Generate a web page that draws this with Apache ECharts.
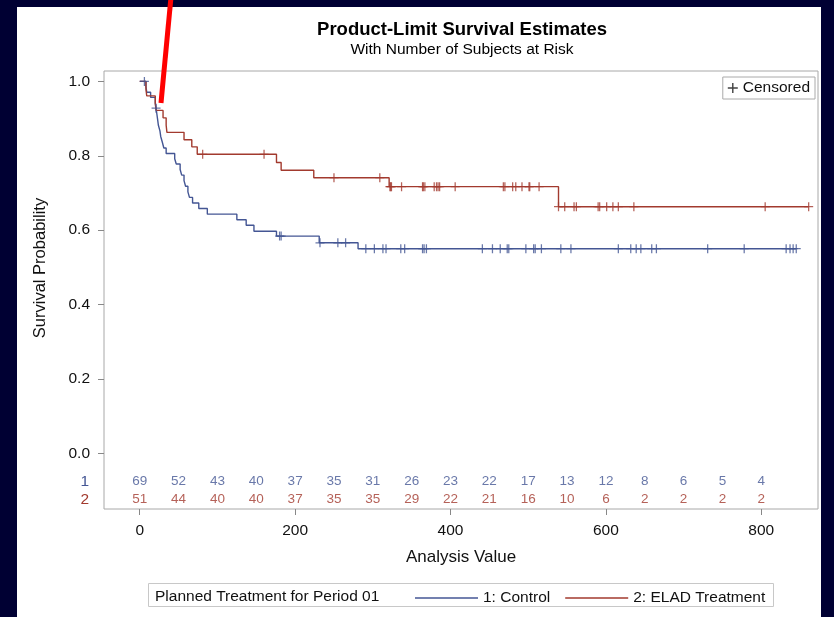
<!DOCTYPE html>
<html><head><meta charset="utf-8">
<script src="https://cdn.jsdelivr.net/npm/echarts@6/dist/echarts.min.js"></script>
<style>
html,body{margin:0;padding:0;background:#000033;width:834px;height:617px;overflow:hidden}
#panel{position:absolute;left:17px;top:7px;width:804px;height:610px;background:#fff}
#chart{position:absolute;left:0;top:0;width:834px;height:617px}
</style></head><body>
<div id="panel"></div><div id="chart"></div>
<script>
// ---- data ----
const ctrlStepTimes = [0,8,9,14,20,21,22,23,24,26,27,29,31,34,45,47,52,54,57,59,62,64,68,76,87,125,137,147,176,231,281,845];
const ctrlStepSurv  = [1.000,0.986,0.971,0.957,0.942,0.928,0.913,0.898,0.882,0.867,0.852,0.837,0.821,0.806,0.792,0.778,0.763,0.748,0.733,0.718,0.703,0.688,0.673,0.658,0.643,0.628,0.613,0.597,0.584,0.566,0.550,0.550];
const ctrlCensorTimes = [6,21,180,182,232,255,265,291,302,313,317,336,341,364,366,369,441,454,464,473,475,497,507,509,517,542,555,616,632,639,645,659,665,731,778,832,837,841,845];

const eladStepTimes = [0,8,9,20,21,30,34,35,57,67,74,176,182,224,321,539,861];
const eladStepSurv  = [1.000,0.980,0.961,0.941,0.922,0.902,0.882,0.863,0.843,0.824,0.804,0.782,0.761,0.741,0.717,0.663,0.663];
const eladCensorTimes = [81,160,250,309,322,323,324,337,364,365,367,379,382,384,386,406,468,470,480,484,492,501,502,514,539,547,559,562,590,592,601,609,616,636,805,861];

const riskTimes  = [0,50,100,150,200,250,300,350,400,450,500,550,600,650,700,750,800];
const ctrlAtRisk = [69,52,43,40,37,35,31,26,23,22,17,13,12,8,6,5,4];
const eladAtRisk = [51,44,40,40,37,35,35,29,22,21,16,10,6,2,2,2,2];
const riskRows   = ['1','2'];

const yTicks = [0,0.2,0.4,0.6,0.8,1.0];
const xTicks = [0,200,400,600,800];

const seriesNames = ['1: Control','2: ELAD Treatment'];
// ------------------------------------

const FONT = '"Liberation Sans", Arial, Helvetica, sans-serif';
const BLUE = '#445694', RED = '#A23A2E';
const PLUS = 'path://M4.3,0h1.4v4.3h4.3v1.4h-4.3v4.3h-1.4v-4.3h-4.3v-1.4h4.3z';

function levelAt(times, surv, t) {
  let s = surv[0];
  for (let i = 0; i < times.length; i++) if (times[i] <= t) s = surv[i];
  return s;
}
const zip = (a, b) => a.map((v, i) => [v, b[i]]);

const chart = echarts.init(document.getElementById('chart'), null, {renderer: 'canvas'});
const option = {
  animation: false,
  textStyle: {fontFamily: FONT},
  title: {
    text: 'Product-Limit Survival Estimates',
    subtext: 'With Number of Subjects at Risk',
    left: 462, textAlign: 'center', top: 20, itemGap: 3, padding: 0,
    textStyle: {fontSize: 18.5, fontWeight: 'bold', color: '#000', fontFamily: FONT},
    subtextStyle: {fontSize: 15.5, color: '#000', fontFamily: FONT}
  },
  grid: [
    {left: 104, top: 71, right: 16, bottom: 108, show: true, borderColor: '#a8a8a8', borderWidth: 1, backgroundColor: 'transparent'},
    {left: 104, top: 472, right: 16, height: 37}
  ],
  xAxis: [
    {type: 'value', gridIndex: 0, min: -46, max: 873,
     axisLine: {show: false, onZero: false}, splitLine: {show: false},
     axisTick: {show: true, length: 6, customValues: xTicks, lineStyle: {color: '#888'}},
     axisLabel: {customValues: xTicks, fontSize: 15.5, color: '#111', margin: 14},
     name: 'Analysis Value', nameLocation: 'middle', nameGap: 40,
     nameTextStyle: {fontSize: 17, color: '#111'}},
    {type: 'value', gridIndex: 1, min: -46, max: 873, show: false}
  ],
  yAxis: [
    {type: 'value', gridIndex: 0, min: -0.15, max: 1.028,
     axisLine: {show: false, onZero: false}, splitLine: {show: false},
     axisTick: {show: true, length: 6, customValues: yTicks, lineStyle: {color: '#888'}},
     axisLabel: {customValues: yTicks, formatter: v => v.toFixed(1), fontSize: 15.5, color: '#111', margin: 14}},
    {type: 'category', gridIndex: 1, data: riskRows, inverse: true,
     axisLine: {show: false}, axisTick: {show: false}, splitLine: {show: false},
     axisLabel: {interval: 0, fontSize: 15.5, margin: 15, color: v => (v === '1' ? BLUE : RED)}}
  ],
  legend: [
    {data: seriesNames.map(n => ({name: n, icon: 'rect'})), left: 415, top: 590, itemWidth: 63, itemHeight: 1.5, itemGap: 15, padding: 0,
     textStyle: {fontSize: 15.5, color: '#111'}},
    {data: [{name: 'Censored', icon: PLUS, itemStyle: {color: '#111'}}], right: 19, top: 77,
     itemWidth: 10, itemHeight: 10, borderColor: '#aaa', borderWidth: 1, padding: [3, 5, 3, 5],
     textStyle: {fontSize: 15.5, color: '#111'}}
  ],
  series: [
    {name: seriesNames[0], type: 'line', step: 'end', symbol: 'none', z: 3,
     data: zip(ctrlStepTimes, ctrlStepSurv), lineStyle: {color: BLUE, width: 1.4}, itemStyle: {color: BLUE}},
    {name: seriesNames[1], type: 'line', step: 'end', symbol: 'none', z: 3,
     data: zip(eladStepTimes, eladStepSurv), lineStyle: {color: RED, width: 1.4}, itemStyle: {color: RED}},
    {name: 'Censored', type: 'scatter', symbol: PLUS, symbolSize: 9, z: 4,
     data: ctrlCensorTimes.map(t => [t, levelAt(ctrlStepTimes, ctrlStepSurv, t)]), itemStyle: {color: BLUE}},
    {name: 'Censored', type: 'scatter', symbol: PLUS, symbolSize: 9, z: 4,
     data: eladCensorTimes.map(t => [t, levelAt(eladStepTimes, eladStepSurv, t)]), itemStyle: {color: RED}},
    {name: 'risk1', type: 'scatter', xAxisIndex: 1, yAxisIndex: 1, symbolSize: 1, silent: true,
     itemStyle: {color: 'transparent'},
     data: riskTimes.map((t, i) => [t, riskRows[0], ctrlAtRisk[i]]),
     label: {show: true, position: 'inside', formatter: p => p.value[2], color: BLUE, fontSize: 13.5}},
    {name: 'risk2', type: 'scatter', xAxisIndex: 1, yAxisIndex: 1, symbolSize: 1, silent: true,
     itemStyle: {color: 'transparent'},
     data: riskTimes.map((t, i) => [t, riskRows[1], eladAtRisk[i]]),
     label: {show: true, position: 'inside', formatter: p => p.value[2], color: RED, fontSize: 13.5}}
  ],
  graphic: [
    {type: 'text', x: 40, y: 268, rotation: Math.PI / 2,
     style: {text: 'Survival Probability', fontSize: 16.5, fontFamily: FONT, fill: '#111', align: 'center', verticalAlign: 'middle'}},
    {type: 'rect', shape: {x: 148.5, y: 583.5, width: 625, height: 23},
     style: {fill: 'none', stroke: '#c8c8c8', lineWidth: 1}},
    {type: 'text', x: 155, y: 597,
     style: {text: 'Planned Treatment for Period 01', fontSize: 15.5, fontFamily: FONT, fill: '#111', align: 'left', verticalAlign: 'middle'}},
    {type: 'line', z: 100, shape: {x1: 171, y1: -3, x2: 161, y2: 103},
     style: {stroke: '#ff0000', lineWidth: 5}}
  ]
};
chart.setOption(option);
</script>
</body></html>
